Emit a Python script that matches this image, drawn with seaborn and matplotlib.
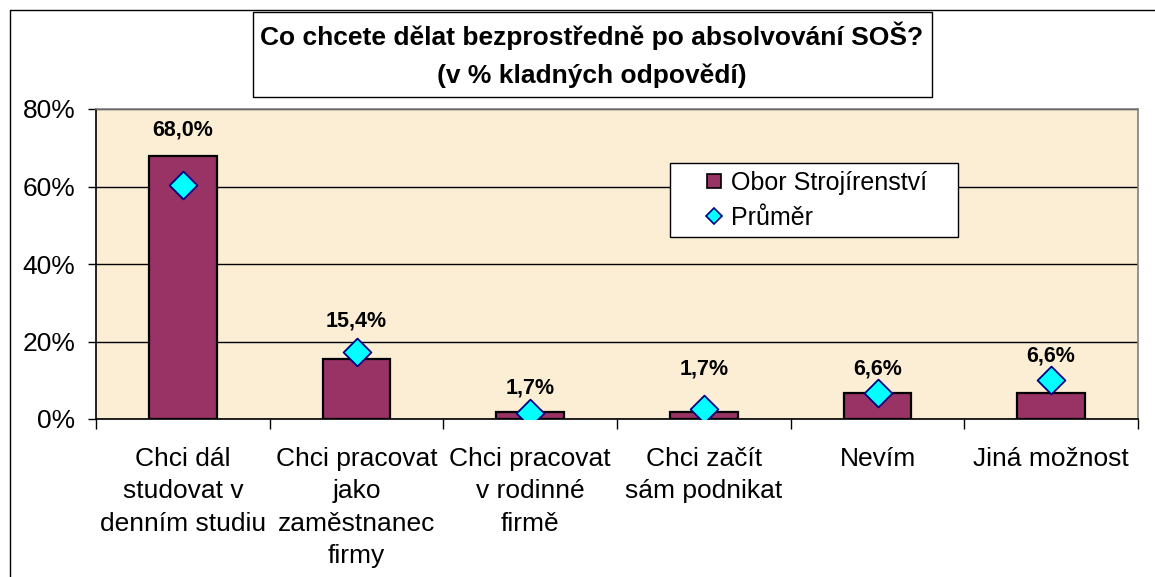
import matplotlib
matplotlib.use("Agg")
import matplotlib.pyplot as plt
from matplotlib.lines import Line2D
from matplotlib.patches import Rectangle
import seaborn as sns
import pandas as pd

# data
categories = ["Chci dál\nstudovat v\ndenním studiu",
              "Chci pracovat\njako\nzaměstnanec\nfirmy",
              "Chci pracovat\nv rodinné\nfirmě",
              "Chci začít\nsám podnikat",
              "Nevím",
              "Jiná možnost"]
obor = [68.0, 15.4, 1.7, 1.7, 6.6, 6.6]
prumer = [60.3, 17.4, 1.5, 2.5, 6.6, 10.0]
# height where each value label sits (labels were moved by hand in the original)
label_pos = [74.6, 25.3, 7.9, 13.0, 13.0, 16.2]

df = pd.DataFrame({"kategorie": categories, "obor": obor, "prumer": prumer})

sns.set_style("white")
plt.rcParams["font.family"] = ["Liberation Sans", "DejaVu Sans"]
plt.rcParams["text.color"] = "black"
plt.rcParams["xtick.color"] = "black"
plt.rcParams["ytick.color"] = "black"

W, H = 1155, 577
fig = plt.figure(figsize=(W / 100, H / 100), dpi=100)
ax = fig.add_axes([96 / W, 1 - 419 / H, (1138 - 96) / W, (419 - 109) / H])
ax.set_facecolor("#FBEED4")

bar_col = "#993366"
sns.barplot(data=df, x="kategorie", y="obor", color=bar_col, width=0.39,
            edgecolor="black", linewidth=1.6, saturation=1, ax=ax, zorder=3)
sns.scatterplot(data=df, x="kategorie", y="prumer", marker="D", s=200,
                color="#00FFFF", edgecolor="#000080", linewidth=1.3, ax=ax, zorder=4)

for i, v in enumerate(obor):
    ax.text(i, label_pos[i], f"{v:.1f}%".replace(".", ","), ha="center", va="center",
            fontsize=15.5, fontweight="bold", zorder=5)

ax.set_xlim(-0.5, 5.5)
ax.set_ylim(0, 80)
ax.set_yticks([0, 20, 40, 60, 80])
ax.set_yticklabels([f"{t}%" for t in [0, 20, 40, 60, 80]])
ax.yaxis.grid(True, color="black", linewidth=1)
ax.set_axisbelow(True)
ax.set_xlabel("")
ax.set_ylabel("")

ax.set_xticks(range(len(categories)))
ax.set_xticklabels(categories, linespacing=1.45)
ax.set_xticks([i - 0.5 for i in range(len(categories) + 1)], minor=True)
ax.tick_params(axis="x", which="major", length=0, pad=20, labelsize=19)
ax.tick_params(axis="x", which="minor", length=7, width=1, direction="out", bottom=True)
ax.tick_params(axis="y", which="major", length=6, width=1, direction="out",
               pad=9, labelsize=19, left=True)

for side in ["top", "right"]:
    ax.spines[side].set_color("#808080")
    ax.spines[side].set_linewidth(1.2)
for side in ["left", "bottom"]:
    ax.spines[side].set_color("black")
    ax.spines[side].set_linewidth(1.2)

# legend box drawn separately, legend itself without frame
fig.patches.append(Rectangle((670 / W, 1 - 237 / H), (958 - 670) / W, (237 - 163) / H,
                             transform=fig.transFigure, facecolor="white",
                             edgecolor="black", linewidth=1, zorder=2))
handles = [Line2D([], [], marker="s", linestyle="none", markersize=10, markerfacecolor=bar_col,
                  markeredgecolor="black", markeredgewidth=1.2),
           Line2D([], [], marker="D", linestyle="none", markersize=8, markerfacecolor="#00FFFF",
                  markeredgecolor="#000080", markeredgewidth=1.2)]
leg = fig.legend(handles, ["Obor Strojírenství", "Průměr"], loc="upper left",
                 bbox_to_anchor=(701 / W, 1 - 171 / H), bbox_transform=fig.transFigure,
                 fontsize=18, frameon=False, handletextpad=0.2, handlelength=1.0,
                 borderpad=0, labelspacing=0.45, borderaxespad=0)
leg.set_zorder(5)

# title box
fig.patches.append(Rectangle((253 / W, 1 - 97 / H), (932 - 253) / W, (97 - 12) / H,
                             transform=fig.transFigure, facecolor="white",
                             edgecolor="black", linewidth=1, zorder=1))
fig.text(592 / W, 1 - 55 / H, "Co chcete dělat bezprostředně po absolvování SOŠ?\n(v % kladných odpovědí)",
         ha="center", va="center", fontsize=19, fontweight="bold", linespacing=1.7, zorder=2)

# chart area frame (cut at right and bottom)
fig.add_artist(Line2D([10 / W, 10 / W], [0, 1 - 10 / H], transform=fig.transFigure,
                      color="black", linewidth=1))
fig.add_artist(Line2D([10 / W, 1], [1 - 10 / H, 1 - 10 / H], transform=fig.transFigure,
                      color="black", linewidth=1))

fig.savefig("out.png", dpi=100)
